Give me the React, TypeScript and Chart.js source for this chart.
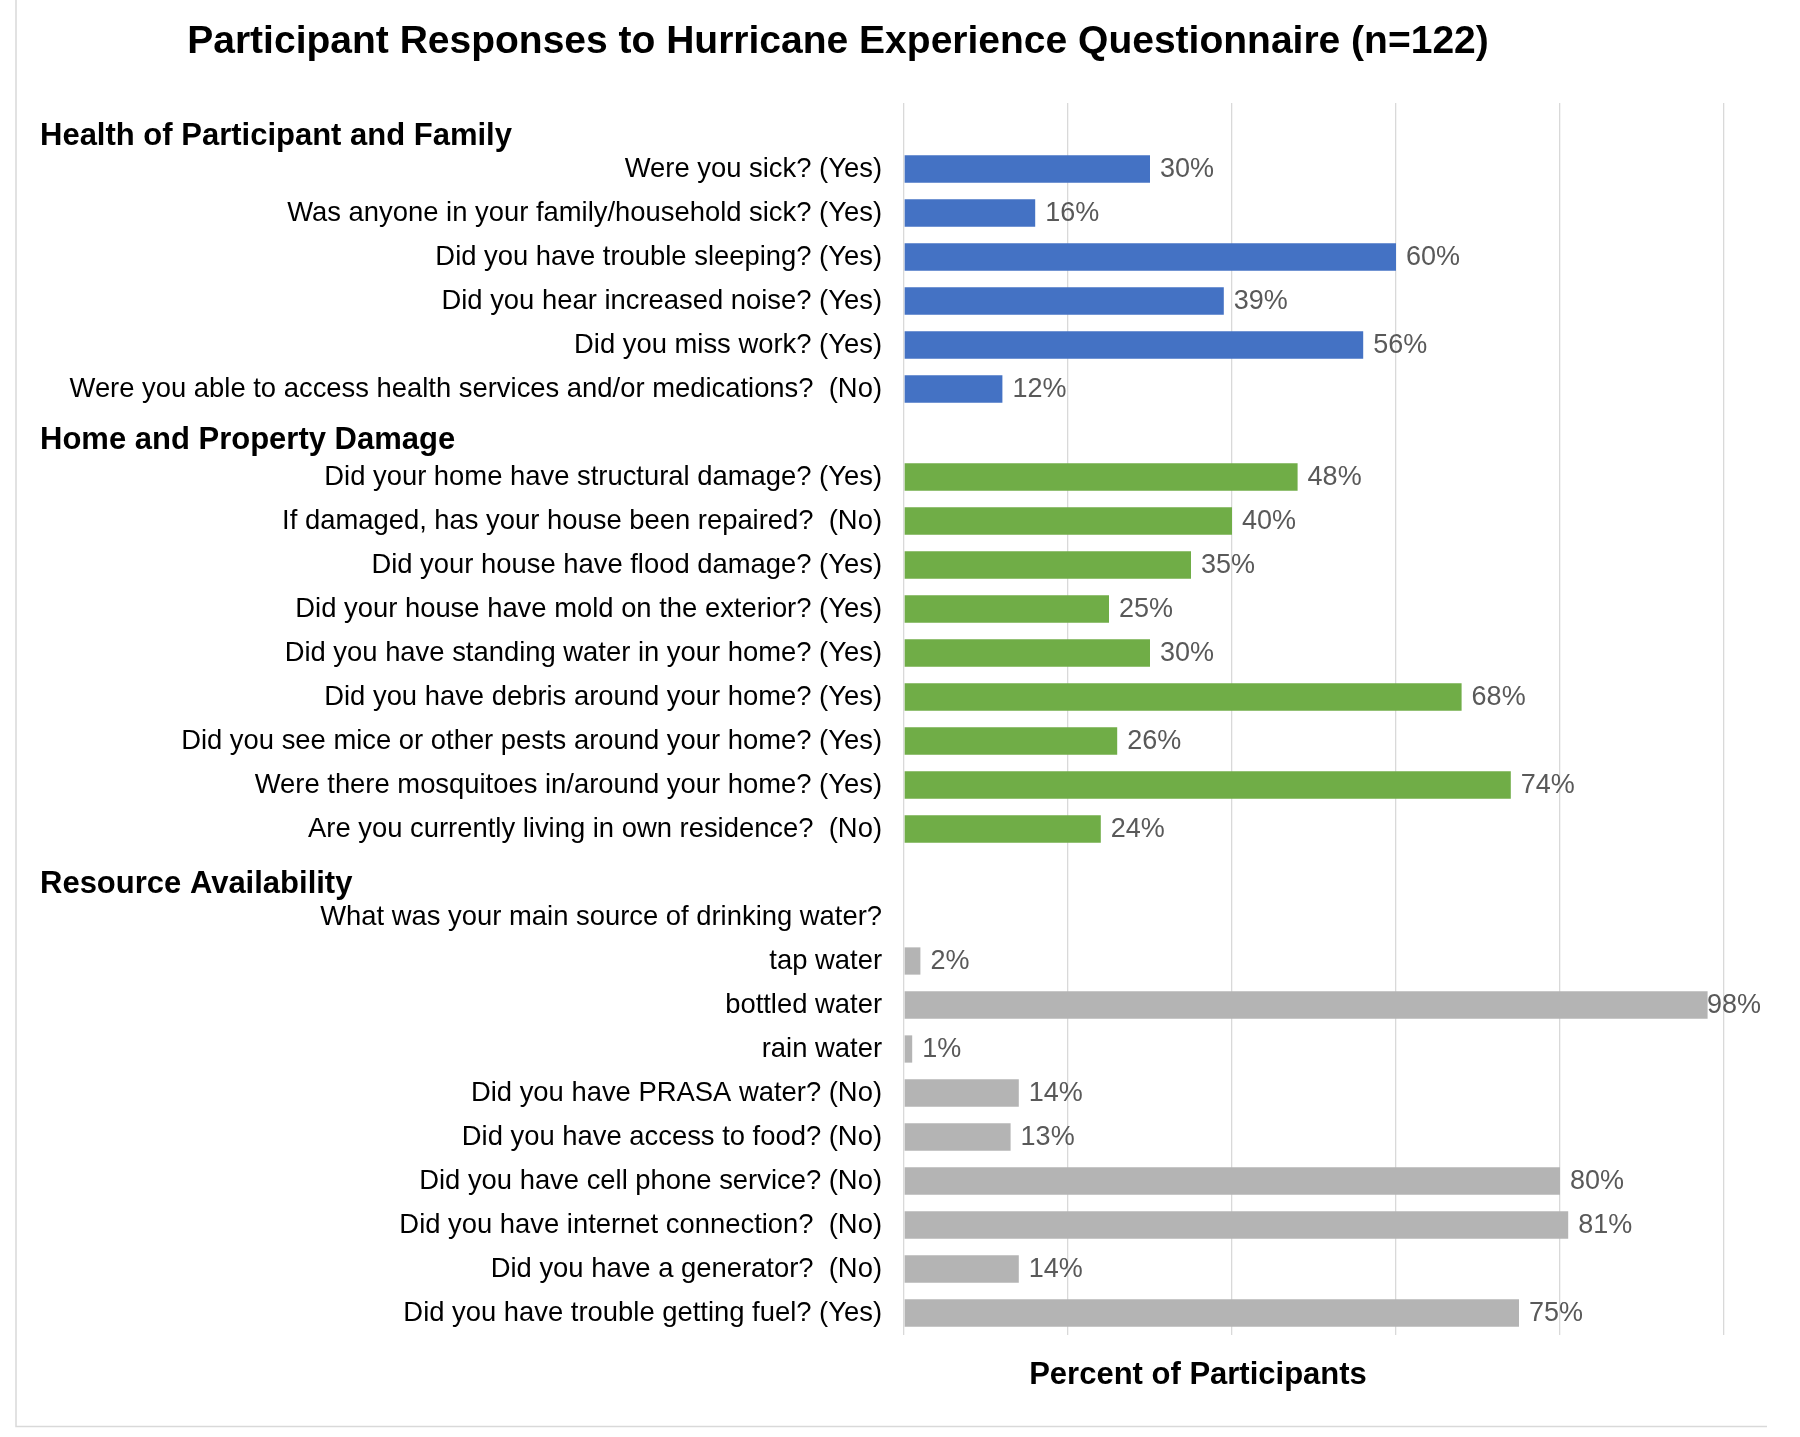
import React, { useEffect, useRef } from "react";
import { Chart, registerables } from "chart.js";

Chart.register(...registerables);

const chartTitle = "Participant Responses to Hurricane Experience Questionnaire (n=122)";
const axisTitle = "Percent of Participants";
const sectionTitles = ["Health of Participant and Family", "Home and Property Damage", "Resource Availability"];

const healthQuestions = [
  "Were you sick? (Yes)",
  "Was anyone in your family/household sick? (Yes)",
  "Did you have trouble sleeping? (Yes)",
  "Did you hear increased noise? (Yes)",
  "Did you miss work? (Yes)",
  "Were you able to access health services and/or medications?  (No)",
];
const healthValues = [30, 16, 60, 39, 56, 12];

const homeQuestions = [
  "Did your home have structural damage? (Yes)",
  "If damaged, has your house been repaired?  (No)",
  "Did your house have flood damage? (Yes)",
  "Did your house have mold on the exterior? (Yes)",
  "Did you have standing water in your home? (Yes)",
  "Did you have debris around your home? (Yes)",
  "Did you see mice or other pests around your home? (Yes)",
  "Were there mosquitoes in/around your home? (Yes)",
  "Are you currently living in own residence?  (No)",
];
const homeValues = [48, 40, 35, 25, 30, 68, 26, 74, 24];

const resourceQuestions = [
  "What was your main source of drinking water?",
  "tap water",
  "bottled water",
  "rain water",
  "Did you have PRASA water? (No)",
  "Did you have access to food? (No)",
  "Did you have cell phone service? (No)",
  "Did you have internet connection?  (No)",
  "Did you have a generator?  (No)",
  "Did you have trouble getting fuel? (Yes)",
];
const resourceValues: (number | null)[] = [null, 2, 98, 1, 14, 13, 80, 81, 14, 75];

const sectionColors = ["#4472C4", "#70AD47", "#B4B4B4"];
const xTicks = [0, 20, 40, 60, 80, 100];

const FONT = "'Liberation Sans', Arial, sans-serif";
const headerOffsets = [20, 16, 20];

export default function App() {
  const canvasRef = useRef<HTMLCanvasElement | null>(null);

  useEffect(() => {
    const canvas = canvasRef.current;
    if (!canvas) return;

    const sections = [
      { q: healthQuestions, v: healthValues as (number | null)[] },
      { q: homeQuestions, v: homeValues as (number | null)[] },
      { q: resourceQuestions, v: resourceValues },
    ];
    const labels: string[] = [];
    const values: (number | null)[] = [];
    const colors: string[] = [];
    const headerRows: number[] = [];
    sections.forEach((s, i) => {
      headerRows.push(labels.length);
      labels.push("");
      values.push(null);
      colors.push(sectionColors[i]);
      s.q.forEach((q, j) => {
        labels.push(q);
        values.push(s.v[j]);
        colors.push(sectionColors[i]);
      });
    });

    const decorPlugin = {
      id: "decor",
      beforeDraw(chart: any) {
        const ctx = chart.ctx;
        ctx.save();
        ctx.strokeStyle = "#d9d9d9";
        ctx.lineWidth = 1.5;
        ctx.beginPath();
        ctx.moveTo(16, 0);
        ctx.lineTo(16, 1426.5);
        ctx.lineTo(1767, 1426.5);
        ctx.stroke();
        ctx.restore();
      },
      afterDatasetsDraw(chart: any) {
        const ctx = chart.ctx;
        const meta = chart.getDatasetMeta(0);
        ctx.save();
        ctx.font = `27px ${FONT}`;
        ctx.fillStyle = "#595959";
        ctx.textAlign = "left";
        ctx.textBaseline = "middle";
        meta.data.forEach((el: any, i: number) => {
          const v = values[i];
          if (v === null || v === undefined) return;
          const txt = `${v}%`;
          const w = ctx.measureText(txt).width;
          const x = Math.min(el.x + 10, 1761 - w);
          ctx.fillText(txt, x, el.y + 1);
        });
        ctx.restore();
      },
      afterDraw(chart: any) {
        const ctx = chart.ctx;
        const yScale = chart.scales.y;
        ctx.save();
        ctx.fillStyle = "#000";
        ctx.textBaseline = "alphabetic";
        ctx.font = `bold 39px ${FONT}`;
        ctx.textAlign = "center";
        ctx.fillText(chartTitle, 838, 53);
        ctx.font = `bold 31px ${FONT}`;
        ctx.fillText(axisTitle, 1198, 1384);
        ctx.textAlign = "left";
        headerRows.forEach((r, i) => {
          const y = yScale.getPixelForValue(r);
          ctx.fillText(sectionTitles[i], 40, y + headerOffsets[i]);
        });
        ctx.restore();
      },
    };

    const chart = new Chart(canvas, {
      type: "bar",
      data: {
        labels,
        datasets: [
          {
            data: values as any,
            backgroundColor: colors,
            borderWidth: 0,
            barPercentage: 0.62,
            categoryPercentage: 1,
          },
        ],
      },
      options: {
        indexAxis: "y",
        responsive: false,
        animation: false,
        layout: { padding: { left: 10, right: 76, top: 103, bottom: 102 } },
        plugins: {
          legend: { display: false },
          title: { display: false },
          tooltip: { enabled: false },
        },
        scales: {
          x: {
            type: "linear",
            min: 0,
            max: 100,
            afterBuildTicks: (scale: any) => {
              scale.ticks = xTicks.map((v) => ({ value: v }));
            },
            grid: { color: "#d9d9d9", lineWidth: 1.3, drawTicks: false },
            border: { display: false },
            ticks: { display: false },
            afterFit: (scale: any) => {
              scale.height = 0;
            },
          },
          y: {
            type: "category",
            grid: { display: false, drawTicks: false },
            border: { display: false },
            ticks: {
              font: { family: FONT, size: 27.4 },
              color: "#000",
              padding: 22,
              autoSkip: false,
            },
            afterFit: (scale: any) => {
              scale.width = 894;
            },
          },
        },
      },
      plugins: [decorPlugin],
    });

    return () => {
      chart.destroy();
    };
  }, []);

  return (
    <div style={{ position: "fixed", left: 0, top: 0, width: 1800, height: 1437, background: "#fff" }}>
      <canvas ref={canvasRef} width={1800} height={1437} style={{ display: "block" }} />
    </div>
  );
}
